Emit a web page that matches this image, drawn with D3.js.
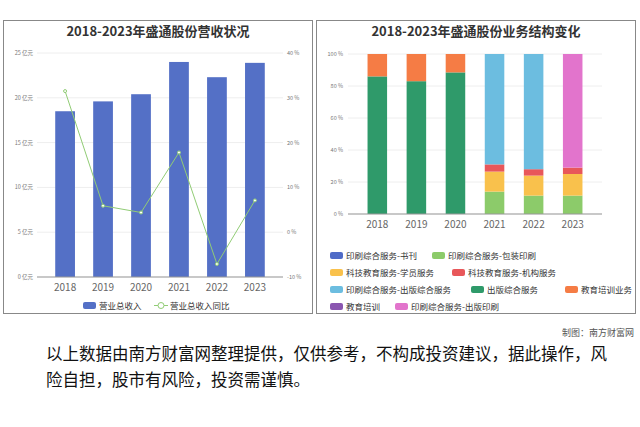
<!DOCTYPE html><html><head><meta charset="utf-8"><script src="https://cdn.jsdelivr.net/npm/d3@7"></script>
<style>body{margin:0;background:#fff;font-family:"Noto Sans CJK SC","Noto Sans",sans-serif}</style></head><body><svg id="c" width="640" height="427"></svg>
<script>
const years=["2018","2019","2020","2021","2022","2023"];
const revenue=[18.5,19.6,20.4,24.0,22.3,23.9];
const growth=[31.5,5.9,4.4,17.8,-7.1,7.1];
const leftTicks=[0,5,10,15,20,25];
const rightTicks=[-10,0,10,20,30,40];
const segNames=["印刷综合服务-书刊","印刷综合服务-包装印刷","科技教育服务-学员服务","科技教育服务-机构服务","印刷综合服务-出版综合服务","出版综合服务","教育培训业务","教育培训","印刷综合服务-出版印刷"];
const segColors=["#4f6bc7","#8ccb6a","#f9c14c","#e8575a","#6cbde0","#2f9a6a","#f57c45","#8a56b0","#e274cc"];
const shares=[
 [0,0,0,0,0,86,14,0,0],
 [0,0,0,0,0,83,17,0,0],
 [0,0,0,0,0,88.5,11.5,0,0],
 [0,14,12.5,4.5,69,0,0,0,0],
 [0,11.5,12.5,4,72,0,0,0,0],
 [0,11.5,13.5,4,0,0,0,0,71]];
const svg=d3.select("#c");
svg.append("rect").attr("x",3.5).attr("y",20.5).attr("width",309).attr("height",293).attr("fill","none").attr("stroke","#888");
svg.append("rect").attr("x",316.5).attr("y",20.5).attr("width",319).attr("height",293).attr("fill","none").attr("stroke","#888");
svg.append("text").attr("x",158).attr("y",36).attr("text-anchor","middle").attr("font-size",13).attr("font-weight","bold").attr("fill","#333").text("2018-2023年盛通股份营收状况");
svg.append("text").attr("x",476).attr("y",36).attr("text-anchor","middle").attr("font-size",13).attr("font-weight","bold").attr("fill","#333").text("2018-2023年盛通股份业务结构变化");
const x=d3.scaleBand().domain(years).range([37,283]).padding(0.48);
const y=d3.scaleLinear().domain([0,25]).range([277,53]);
const y2=d3.scaleLinear().domain([-10,40]).range([277,53]);
const g=svg.append("g");
g.selectAll(".gl").data(leftTicks).join("line").attr("x1",37).attr("x2",283).attr("y1",d=>y(d)).attr("y2",d=>y(d)).attr("stroke","#eee");
g.selectAll(".b").data(revenue).join("rect").attr("x",(d,i)=>x(years[i])).attr("width",x.bandwidth()).attr("y",d=>y(d)).attr("height",d=>y(0)-y(d)).attr("fill","#5470c6");
g.selectAll(".lt").data(leftTicks).join("text").attr("x",33).attr("y",d=>y(d)+2).attr("text-anchor","end").attr("font-size",5.5).attr("fill","#777").text(d=>d+" 亿元");
g.selectAll(".rt").data(rightTicks).join("text").attr("x",287).attr("y",d=>y2(d)+2).attr("font-size",5.5).attr("fill","#777").text(d=>d+" %");
g.append("line").attr("x1",37).attr("x2",283).attr("y1",277).attr("y2",277).attr("stroke","#999");
g.selectAll(".xt").data(years).join("text").attr("x",d=>x(d)+x.bandwidth()/2).attr("y",291).attr("text-anchor","middle").attr("font-size",10).attr("fill","#666").text(d=>d);
const line=d3.line().x((d,i)=>x(years[i])+x.bandwidth()/2).y(d=>y2(d));
g.append("path").attr("d",line(growth)).attr("fill","none").attr("stroke","#91cc75").attr("stroke-width",1);
g.selectAll(".pt").data(growth).join("circle").attr("cx",(d,i)=>x(years[i])+x.bandwidth()/2).attr("cy",d=>y2(d)).attr("r",1.5).attr("fill","#fff").attr("stroke","#91cc75");
g.append("rect").attr("x",83).attr("y",302).attr("width",13).attr("height",7).attr("rx",2).attr("fill","#5470c6");
g.append("text").attr("x",99).attr("y",309).attr("font-size",8.5).attr("fill","#333").text("营业总收入");
g.append("line").attr("x1",154).attr("x2",168).attr("y1",305.5).attr("y2",305.5).attr("stroke","#91cc75");
g.append("circle").attr("cx",161).attr("cy",305.5).attr("r",3).attr("fill","#fff").attr("stroke","#91cc75");
g.append("text").attr("x",170).attr("y",309).attr("font-size",8.5).attr("fill","#333").text("营业总收入同比");
const xr=d3.scaleBand().domain(years).range([348,602]).padding(0.5);
const yr=d3.scaleLinear().domain([0,100]).range([214,54]);
const h=svg.append("g");
h.selectAll(".gl").data([0,20,40,60,80,100]).join("line").attr("x1",348).attr("x2",602).attr("y1",d=>yr(d)).attr("y2",d=>yr(d)).attr("stroke","#eee");
h.selectAll(".lt").data([0,20,40,60,80,100]).join("text").attr("x",343).attr("y",d=>yr(d)+2).attr("text-anchor","end").attr("font-size",5.5).attr("fill","#777").text(d=>d+" %");
shares.forEach((row,i)=>{const st=d3.stack().keys(d3.range(row.length))([row]);
 st.forEach((s,k)=>{const d=s[0];if(d[1]-d[0]>0)h.append("rect").attr("x",xr(years[i])).attr("width",xr.bandwidth()).attr("y",yr(d[1])).attr("height",yr(d[0])-yr(d[1])).attr("fill",segColors[k]);});});
h.append("line").attr("x1",348).attr("x2",602).attr("y1",214).attr("y2",214).attr("stroke","#999");
h.selectAll(".xt").data(years).join("text").attr("x",d=>xr(d)+xr.bandwidth()/2).attr("y",228).attr("text-anchor","middle").attr("font-size",10).attr("fill","#666").text(d=>d);
const legPos=[[330,259],[432,259],[330,276],[452,276],[330,293],[471,293],[565,293],[330,310],[395,310]];
segNames.forEach((n,k)=>{const [lx,ly]=legPos[k];
 h.append("rect").attr("x",lx).attr("y",ly-7).attr("width",13).attr("height",7).attr("rx",2).attr("fill",segColors[k]);
 h.append("text").attr("x",lx+16).attr("y",ly).attr("font-size",8.5).attr("fill","#333").text(n);});
svg.append("text").attr("x",634).attr("y",336).attr("text-anchor","end").attr("font-size",9).attr("fill","#555").text("制图：南方财富网");
svg.append("text").attr("x",46).attr("y",360).attr("font-size",16.5).attr("fill","#111").text("以上数据由南方财富网整理提供，仅供参考，不构成投资建议，据此操作，风");
svg.append("text").attr("x",46).attr("y",386).attr("font-size",16.5).attr("fill","#111").text("险自担，股市有风险，投资需谨慎。");
</script></body></html>
